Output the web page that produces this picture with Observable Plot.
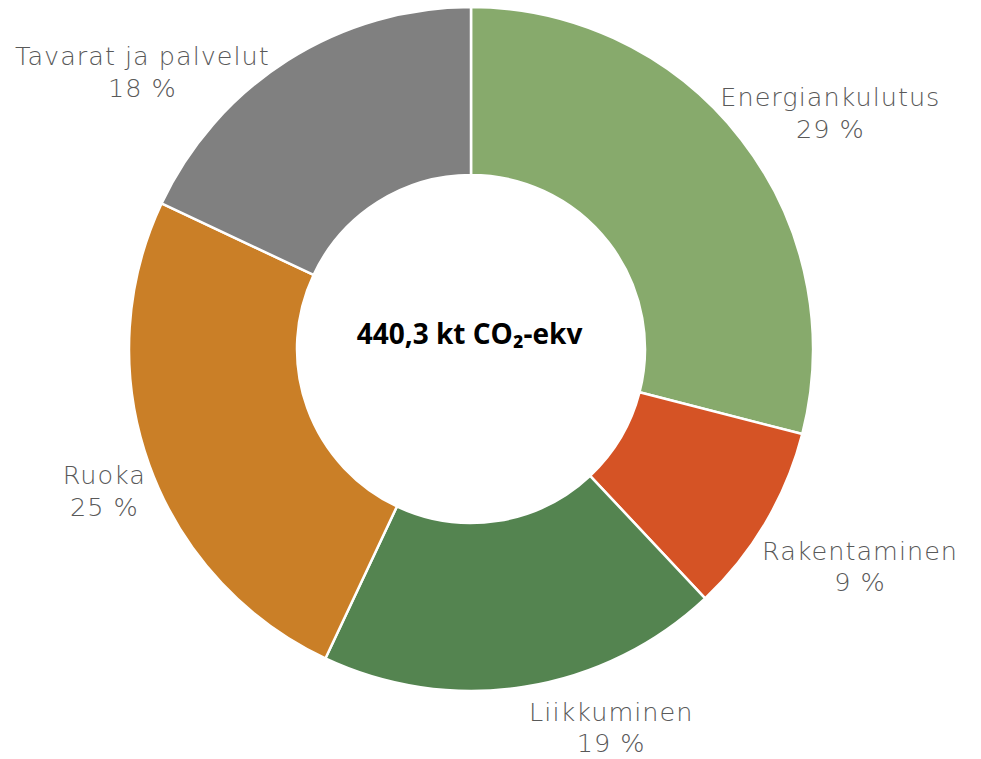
<!DOCTYPE html>
<html><head><meta charset="utf-8">
<script src="https://cdn.jsdelivr.net/npm/d3@7"></script>
<script src="https://cdn.jsdelivr.net/npm/@observablehq/plot@0.6"></script>
<style>body{margin:0;background:#fff}#chart svg{display:block}</style>
</head><body><div id="chart"></div>
<script>
const categories = ["Energiankulutus", "Rakentaminen", "Liikkuminen", "Ruoka", "Tavarat ja palvelut"];
const shares = [29, 9, 19, 25, 18];
const colors = ["#87AA6C", "#D55325", "#548450", "#CA7F27", "#808080"];
const totalLabel = "440,3 kt CO₂-ekv";

// layout (pixels)
const W = 981, H = 759, CX = 471, CY = 349, R_OUT = 342, R_IN = 174, R_LABEL = 420;
const labelNudge = [[27, 20], [27, 2], [74, -38], [28, -2], [-104, 76]];

const data = categories.map((c, i) => ({category: c, value: shares[i], color: colors[i]}));
const pie = d3.pie().sort(null).value(d => d.value).startAngle(0).endAngle(2 * Math.PI);
const arcs = pie(data);
const labels = arcs.map((a, i) => {
  const m = (a.startAngle + a.endAngle) / 2;
  return {
    text: `${a.data.category}\n${a.data.value} %`,
    x: R_LABEL * Math.sin(m) + labelNudge[i][0],
    y: -R_LABEL * Math.cos(m) + labelNudge[i][1]
  };
});

function donut(index, scales, values, dims) {
  const g = d3.create("svg:g");
  const cx = scales.x(0), cy = scales.y(0);
  const k = scales.x(1) - scales.x(0);
  const arc = d3.arc().innerRadius(R_IN * k).outerRadius(R_OUT * k);
  g.attr("transform", `translate(${cx},${cy})`)
    .selectAll("path").data(arcs).join("path")
    .attr("d", arc)
    .attr("fill", d => d.data.color)
    .attr("stroke", "#fff")
    .attr("stroke-width", 2.5)
    .attr("stroke-linejoin", "round");
  return g.node();
}

const chart = Plot.plot({
  width: W, height: H,
  margin: 0,
  x: {domain: [-CX, W - CX], range: [0, W], axis: null},
  y: {domain: [-CY, H - CY], range: [0, H], axis: null},
  marks: [
    donut,
    Plot.text(labels, {
      x: "x", y: "y", text: "text",
      fontSize: 25.5, lineHeight: 1.25,
      fill: "#595959",
      fontFamily: "DejaVu Sans", fontWeight: 200
    }),
    Plot.text([totalLabel], {
      x: () => -2, y: () => -14, text: d => d,
      fontSize: 28, fontWeight: "bold", fill: "#000",
      fontFamily: "Open Sans"
    })
  ]
});
d3.select(chart).selectAll("g[aria-label='text']").filter((d, i) => i === 0).selectAll("text").attr("letter-spacing", 1);
document.getElementById("chart").append(chart);
</script>
</body></html>
